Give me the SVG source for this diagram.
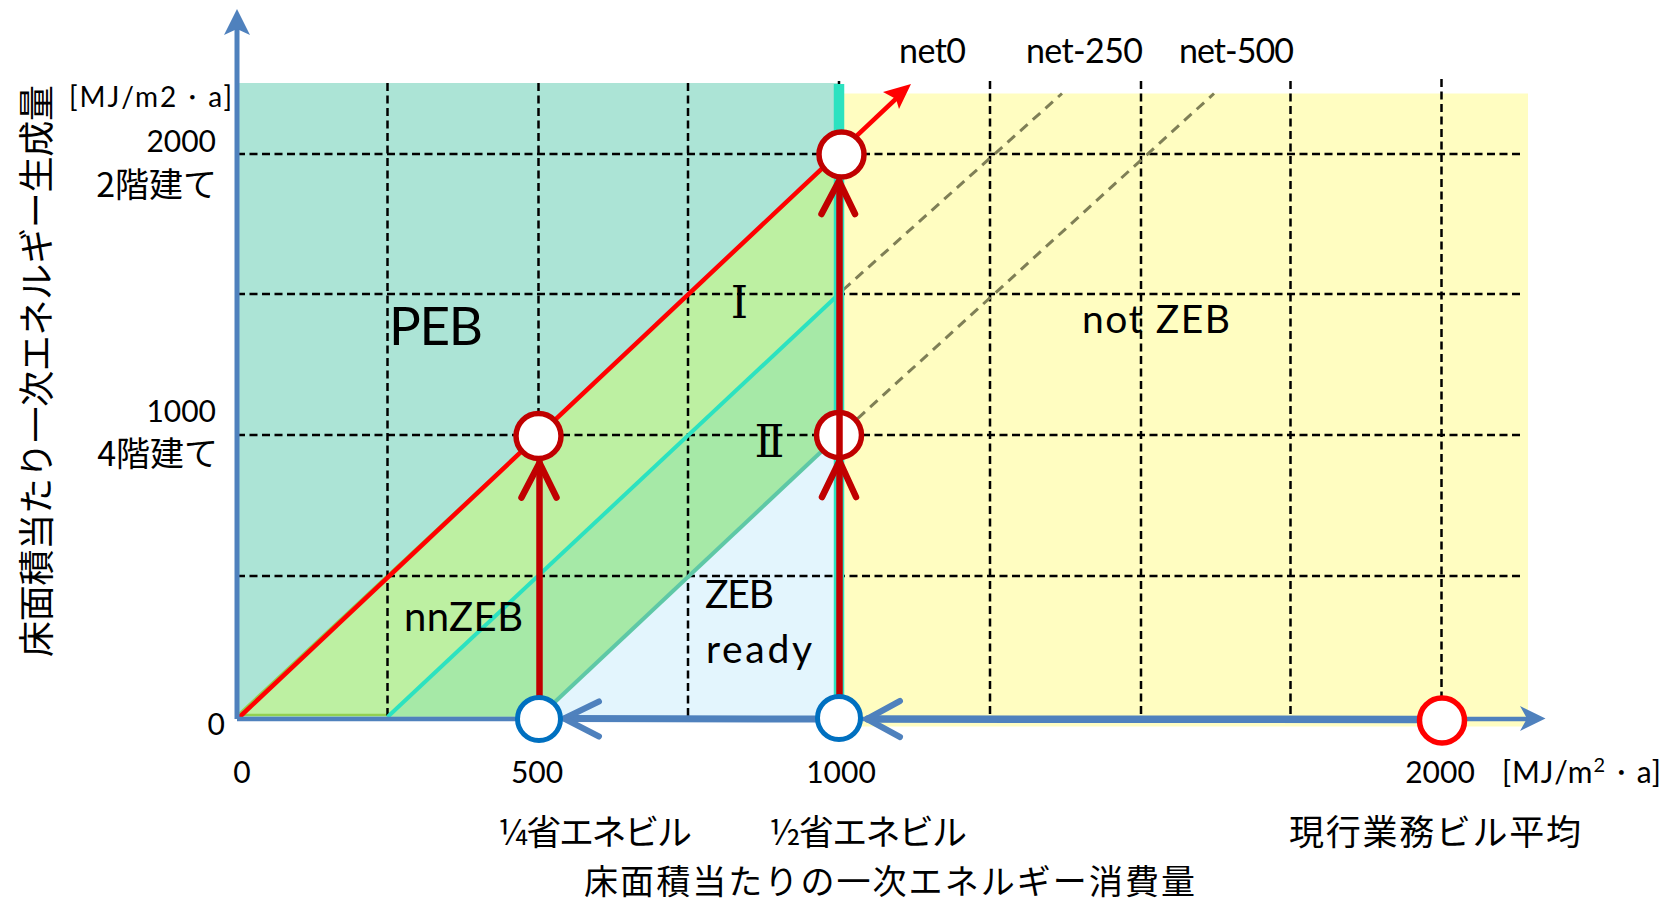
<svg xmlns="http://www.w3.org/2000/svg" width="1675" height="905" viewBox="0 0 1675 905">
<style>
.lat{font-family:Lato,"Liberation Sans",sans-serif;fill:#000}
.jp{font-family:"Noto Sans CJK JP","Noto Sans CJK SC",sans-serif;fill:#000}
.rom{font-family:"DejaVu Serif","Liberation Serif","Noto Sans CJK JP",serif;fill:#000}
.grid{stroke:#000;stroke-width:2.5;stroke-dasharray:8 4.5;fill:none}
.net{stroke:#7F7F56;stroke-width:3;stroke-dasharray:10 7;fill:none}
.blu{stroke:#4F81BD;fill:none;stroke-linecap:round;stroke-linejoin:round}
.drd{stroke:#C00000;fill:none;stroke-width:6.5;stroke-linecap:round;stroke-linejoin:round}
.ringD{fill:#fff;stroke:#C00000;stroke-width:5.5}
.ringB{fill:#fff;stroke:#0070C0;stroke-width:5}
</style>
<rect width="1675" height="905" fill="#fff"/>
<g id="regions">
  <rect id="notzeb-area" x="839" y="93.5" width="689" height="633" fill="#FFFDC1"/>
  <rect id="peb-area" x="237" y="83" width="602" height="634" fill="#ACE4D6"/>
  <polygon id="nnzeb-area" points="238,715 839,154 839,435 539,715" fill="#BDF0A2" stroke="#92D050" stroke-width="2.5"/>
  <polygon id="zone2-area" points="387.5,716 839,294 839,435 539,716" fill="#A6E9A7"/>
  <polygon id="zebready-area" points="539,717 839,435 839,717" fill="#E3F5FD"/>
</g>
<g id="grid">
  <line class="grid" x1="237" y1="154" x2="1522" y2="154"/>
  <line class="grid" x1="237" y1="294" x2="1522" y2="294"/>
  <line class="grid" x1="237" y1="435" x2="1522" y2="435"/>
  <line class="grid" x1="237" y1="576" x2="1522" y2="576"/>
  <line class="grid" x1="387.5" y1="83" x2="387.5" y2="717"/>
  <line class="grid" x1="538.5" y1="83" x2="538.5" y2="717"/>
  <line class="grid" x1="688" y1="83" x2="688" y2="717"/>
  <line class="grid" x1="839" y1="81" x2="839" y2="717"/>
  <line class="grid" x1="990" y1="81" x2="990" y2="717"/>
  <line class="grid" x1="1141" y1="81" x2="1141" y2="717"/>
  <line class="grid" x1="1290.5" y1="81" x2="1290.5" y2="717"/>
  <line class="grid" x1="1441.5" y1="79" x2="1441.5" y2="717"/>
</g>
<g id="connectors">
  <line id="net250-ext" class="net" x1="843" y1="290" x2="1062" y2="93.5"/>
  <line id="net500-ext" class="net" x1="845" y1="430" x2="1214" y2="93.5"/>
  <line id="net500" x1="541" y1="715" x2="839" y2="435" stroke="#5EC8A6" stroke-width="4"/>
  <line id="net250" x1="387.5" y1="717" x2="839" y2="294" stroke="#2CE2C0" stroke-width="4"/>
  <line id="teal-bar" x1="839" y1="84" x2="839" y2="717" stroke="#2CE2C0" stroke-width="10.5"/>
  <line id="net0" x1="238.5" y1="718" x2="900" y2="95" stroke="#FF0000" stroke-width="4.5"/>
  <polygon id="net0-head" points="911,84 899,109 896,99 883,92" fill="#FF0000"/>
  <line id="y-axis" x1="237" y1="719" x2="237" y2="28" stroke="#4F81BD" stroke-width="5"/>
  <polygon id="y-axis-head" points="237,9 250,35 237,29 224,35" fill="#4F81BD"/>
  <line id="x-axis" x1="237" y1="719" x2="1530" y2="719" stroke="#4F81BD" stroke-width="4.5"/>
  <polygon id="x-axis-head" points="1545.5,718.5 1520,731 1527,718.5 1520,706" fill="#4F81BD"/>
  <line class="blu" x1="1418" y1="719.5" x2="868" y2="719" stroke-width="7.5"/>
  <polyline class="blu" points="900,701 867,719 900,737" stroke-width="6"/>
  <line class="blu" x1="816" y1="719" x2="566" y2="718.5" stroke-width="7"/>
  <polyline class="blu" points="599,701.5 564,718.5 599,736.5" stroke-width="6"/>
  <line class="drd" x1="539.5" y1="697" x2="539.5" y2="462"/>
  <polyline class="drd" points="521.5,497.5 539.5,463 556.5,497.5"/>
</g>
<g id="node-mid">
  <circle class="ringD" cx="839" cy="435" r="22.5"/>
</g>
<g id="connectors-up">
  <line class="drd" x1="839.5" y1="696" x2="839.5" y2="182"/>
  <polyline class="drd" points="822,497 839.5,461 856,497"/>
  <polyline class="drd" points="821.5,214 839,181 855,214"/>
</g>
<g id="node-top"><circle class="ringD" cx="841.5" cy="154.5" r="22.5"/></g>
<g id="node-left"><circle class="ringD" cx="538.5" cy="436" r="22.5"/></g>
<g id="node-b500"><circle class="ringB" cx="539" cy="719" r="21.5"/></g>
<g id="node-b1000"><circle class="ringB" cx="839" cy="718" r="21.5"/></g>
<g id="node-r2000"><circle cx="1442" cy="720.5" r="22.5" fill="#fff" stroke="#FF0000" stroke-width="5.5"/></g>
<g id="labels">
  <text class="lat" x="232" y="107" font-size="28" text-anchor="end" textLength="163">[MJ/m2・a]</text>
  <text class="lat" x="216" y="152" font-size="30" text-anchor="end">2000</text>
  <text class="jp" x="217" y="196.5" font-size="34" text-anchor="end">2階建て</text>
  <text class="lat" x="216" y="422" font-size="30" text-anchor="end">1000</text>
  <text class="jp" x="218" y="466" font-size="34" text-anchor="end">4階建て</text>
  <text class="lat" x="225" y="735" font-size="30" text-anchor="end">0</text>
  <text class="lat" x="242" y="783" font-size="30" text-anchor="middle">0</text>
  <text class="lat" x="537" y="783" font-size="30" text-anchor="middle">500</text>
  <text class="lat" x="841" y="783" font-size="30" text-anchor="middle">1000</text>
  <text class="lat" x="1440" y="783" font-size="30" text-anchor="middle">2000</text>
  <text class="lat" x="1502" y="783" font-size="30" textLength="159">[MJ/m<tspan font-size="20" dy="-11">2</tspan><tspan dy="11">・a]</tspan></text>
  <text class="jp" x="595" y="845" font-size="35" text-anchor="middle" textLength="194">¼省エネビル</text>
  <text class="jp" x="868" y="845" font-size="35" text-anchor="middle" textLength="198">½省エネビル</text>
  <text class="jp" x="1435" y="845" font-size="35" text-anchor="middle" textLength="292">現行業務ビル平均</text>
  <text class="jp" x="889.5" y="894" font-size="34" text-anchor="middle" textLength="611">床面積当たりの一次エネルギー消費量</text>
  <text class="jp" transform="translate(50,371) rotate(-90)" font-size="36" text-anchor="middle" textLength="572">床面積当たり一次エネルギー生成量</text>
  <text class="lat" x="899" y="62.5" font-size="34" textLength="67">net0</text>
  <text class="lat" x="1026" y="62.5" font-size="34" textLength="117">net-250</text>
  <text class="lat" x="1179" y="62.5" font-size="34" textLength="115">net-500</text>
  <text class="lat" x="389" y="345" font-size="53" textLength="94">PEB</text>
  <text class="rom" x="739.5" y="318" font-size="44" text-anchor="middle">Ⅰ</text>
  <text class="rom" x="769.5" y="457" font-size="44" text-anchor="middle">Ⅱ</text>
  <text class="lat" x="404" y="631" font-size="40" textLength="119">nnZEB</text>
  <text class="lat" x="705" y="608" font-size="39" textLength="69">ZEB</text>
  <text class="lat" x="706" y="663" font-size="39" textLength="106">ready</text>
  <text class="lat" x="1082" y="333" font-size="39" textLength="148">not ZEB</text>
</g>
</svg>
